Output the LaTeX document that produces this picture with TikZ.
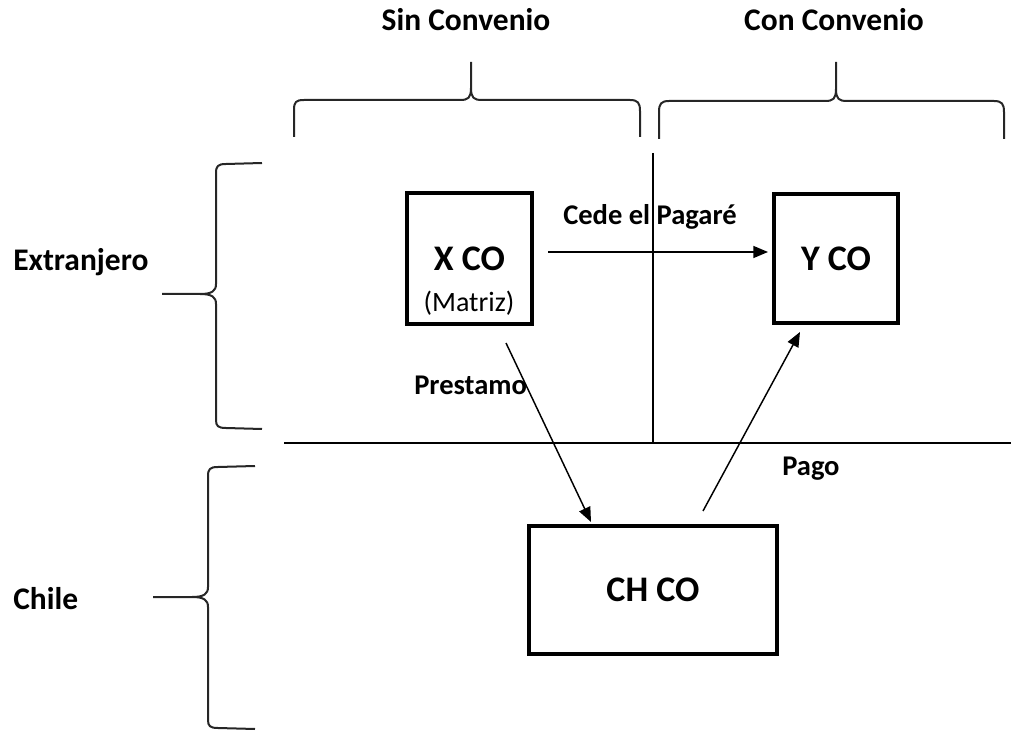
\documentclass[tikz,border=0pt]{standalone}
\usepackage{fontspec}
\setmainfont{Carlito}
\usetikzlibrary{arrows.meta}
\begin{document}
\begin{tikzpicture}[x=0.75pt,y=-0.75pt,
  box/.style={draw=black,line width=2.6pt,inner sep=0pt,font=\fontsize{27}{30}\selectfont\bfseries},
  lbl/.style={inner sep=0pt,font=\fontsize{21.4}{24}\selectfont\bfseries},
  ttl/.style={inner sep=0pt,font=\fontsize{23.6}{26}\selectfont\bfseries},
  sub/.style={inner sep=0pt,font=\fontsize{21}{24}\selectfont},
  arr/.style={line width=1.1pt,-{Triangle[length=11pt,width=9pt]}},
  divline/.style={line width=1.1pt},
  brace/.style={line width=1.5pt,draw=black!85,line join=round}]
\useasboundingbox (0,0) rectangle (1011,734);

% column titles
\node[ttl,anchor=base] (sin) at (466,31) {Sin Convenio};
\node[ttl,anchor=base] (con) at (834,31) {Con Convenio};
% row titles
\node[ttl,anchor=base west] (ext) at (13,271) {Extranjero};
\node[ttl,anchor=base west] (chi) at (13,609) {Chile};

% top braces
\draw[brace] (294,137) -- (294,110) .. controls (294,102) and (296,100) .. (304,100)
  -- (460,100) .. controls (468,100) and (471,98) .. (471,88) -- (471,62)
  (471,88) .. controls (471,98) and (474,100) .. (482,100)
  -- (630,100) .. controls (638,100) and (640,103) .. (640,111) -- (640,137);
\draw[brace] (659,139) -- (659,112) .. controls (659,104) and (661,101) .. (669,101)
  -- (825,101) .. controls (833,101) and (836,99) .. (836,89) -- (836,62)
  (836,89) .. controls (836,99) and (839,101) .. (847,101)
  -- (994,101) .. controls (1002,101) and (1004,104) .. (1004,112) -- (1004,139);

% left braces
\draw[brace] (262,163) -- (226,164) .. controls (218,164) and (216,166) .. (216,173)
  -- (216,284) .. controls (216,291) and (212,294) .. (200,294) -- (162,294)
  (200,294) .. controls (212,294) and (216,297) .. (216,304)
  -- (216,420) .. controls (216,426) and (218,428) .. (226,428) -- (262,429);
\draw[brace] (255,466) -- (218,467) .. controls (210,467) and (208,469) .. (208,476)
  -- (208,587) .. controls (208,594) and (204,597) .. (192,597) -- (153,597)
  (192,597) .. controls (204,597) and (208,600) .. (208,607)
  -- (208,720) .. controls (208,726) and (210,728) .. (218,728) -- (255,729);

% dividing lines
\coordinate (vtop) at (653,153);
\coordinate (vbot) at (653,443);
\coordinate (hleft) at (284,443);
\coordinate (hright) at (1011,443);
\draw[divline] (vtop) -- (vbot);
\draw[divline] (hleft) -- (hright);

% boxes
\node[box,minimum width=93.75pt,minimum height=98.25pt] (xco) at (469.5,258.5) {X CO};
\node[sub,anchor=base] (mat) at (469,312) {(Matriz)};
\node[box,minimum width=93pt,minimum height=96.75pt] (yco) at (836,258.5) {Y CO};
\node[box,minimum width=186pt,minimum height=96pt] (chco) at (653,590) {CH CO};

% arrows
\coordinate (cedeS) at (548,252);
\coordinate (cedeE) at (768,252);
\draw[arr] (cedeS) -- (cedeE);
\node[lbl,anchor=base west] (cede) at (563,225) {Cede el Pagaré};

\coordinate (presS) at (506,343);
\coordinate (presE) at (591,522);
\draw[arr] (presS) -- (presE);
\node[lbl,anchor=base west] (pres) at (414,395) {Prestamo};

\coordinate (pagoS) at (703,511);
\coordinate (pagoE) at (800,332);
\draw[arr] (pagoS) -- (pagoE);
\node[lbl,anchor=base west] (pago) at (782,475) {Pago};
\end{tikzpicture}
\end{document}
